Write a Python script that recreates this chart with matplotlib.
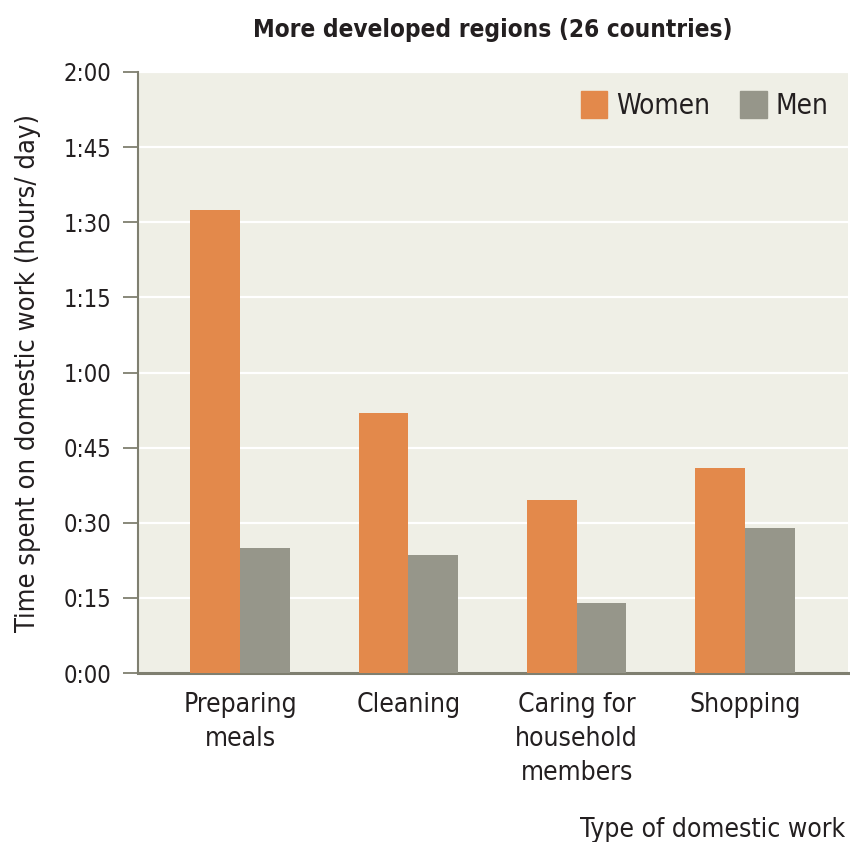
import matplotlib
matplotlib.use("Agg")
import matplotlib.pyplot as plt
import numpy as np
from matplotlib.patches import Patch

plt.rcParams['font.family'] = ['DejaVu Sans']
plt.rcParams['font.stretch'] = 'condensed'

categories = ["Preparing\nmeals", "Cleaning", "Caring for\nhousehold\nmembers", "Shopping"]
women_min = [92.5, 52, 34.5, 41]
men_min = [25, 23.5, 14, 29]
ytick_minutes = [0, 15, 30, 45, 60, 75, 90, 105, 120]
ytick_labels = ["0:00", "0:15", "0:30", "0:45", "1:00", "1:15", "1:30", "1:45", "2:00"]

orange = "#E3894B"
grey = "#96968A"
bg = "#EFEFE6"
ink = "#231F20"
axis_col = "#7F7F70"

fig = plt.figure(figsize=(8.5, 8.42), dpi=100)
ax = fig.add_axes([0.1624, 0.2007, 0.8352, 0.7138])
ax.set_facecolor(bg)

x = np.arange(len(categories))
w = 0.296
ax.bar(x - w / 2, women_min, w, color=orange, zorder=3)
ax.bar(x + w / 2, men_min, w, color=grey, zorder=3)

ax.set_ylim(0, 120)
ax.set_xlim(-0.607, 3.613)
ax.set_yticks(ytick_minutes)
ax.set_yticklabels(ytick_labels, fontsize=17, color=ink)
ax.yaxis.grid(True, color="white", linewidth=1.6, zorder=1)
ax.set_axisbelow(True)

ax.set_xticks(x)
ax.set_xticklabels(categories, fontsize=19, color=ink, linespacing=1.4, va="top")
ax.tick_params(axis="x", length=0, pad=14)
ax.tick_params(axis="y", length=11, width=1.3, color=axis_col, pad=8)

for s in ["top", "right"]:
    ax.spines[s].set_visible(False)
ax.spines["left"].set_color(axis_col)
ax.spines["left"].set_linewidth(1.5)
ax.spines["bottom"].set_color(axis_col)
ax.spines["bottom"].set_linewidth(2.2)

ax.set_title("More developed regions (26 countries)", fontsize=17.5, fontweight="bold",
             color=ink, pad=25)
ax.set_ylabel("Time spent on domestic work (hours/ day)", fontsize=19.5, color=ink)
ax.yaxis.set_label_coords(-0.137, 0.5)
fig.text(0.995, 0.006, "Type of domestic work", ha="right", va="baseline", fontsize=19, color=ink)

handles = [Patch(color=orange, label="Women"), Patch(color=grey, label="Men")]
ax.legend(handles=handles, loc="upper right", ncol=2, frameon=False, fontsize=20,
          handlelength=0.97, handleheight=1.1, handletextpad=0.3, columnspacing=1.1,
          borderaxespad=0.3, labelcolor=ink)

fig.savefig("out.png", dpi=100)
